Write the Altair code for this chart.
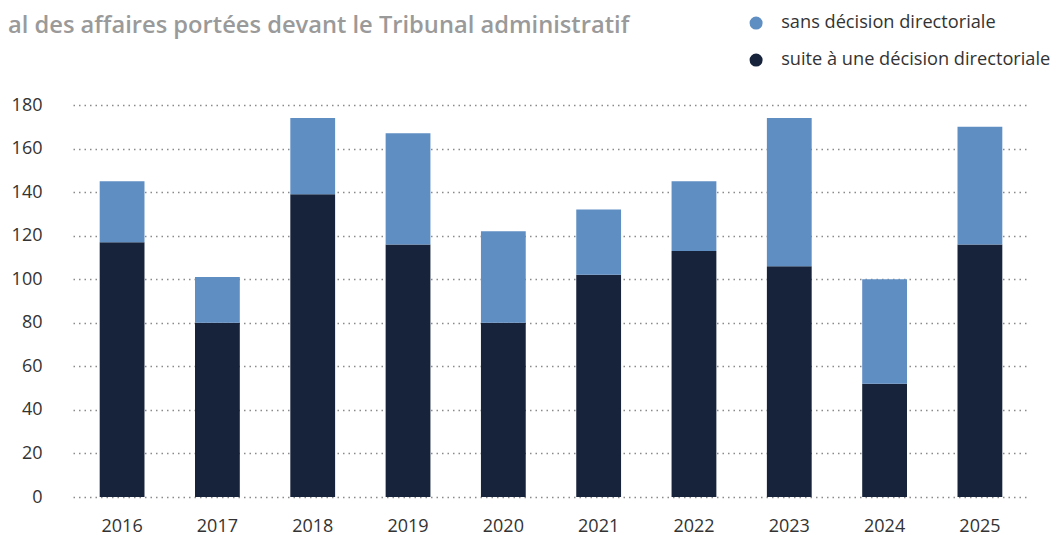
import altair as alt
import pandas as pd

years = ["2016", "2017", "2018", "2019", "2020", "2021", "2022", "2023", "2024", "2025"]
suite = [117, 80, 139, 116, 80, 102, 113, 106, 52, 116]
sans = [28, 21, 35, 51, 42, 30, 32, 68, 48, 54]
series = ["sans décision directoriale", "suite à une décision directoriale"]
colors = ["#5f8ec3", "#16233b"]
title_text = "al des affaires portées devant le Tribunal administratif"

rows = []
for i, y in enumerate(years):
    rows.append({"year": y, "serie": series[1], "value": suite[i], "ord": 0})
    rows.append({"year": y, "serie": series[0], "value": sans[i], "ord": 1})
df = pd.DataFrame(rows)

bars = alt.Chart(df).mark_bar().encode(
    x=alt.X("year:N", sort=years, title=None,
            scale=alt.Scale(paddingInner=0.53, paddingOuter=0.28),
            axis=alt.Axis(labelAngle=0, labelFontSize=18, labelColor="#333333",
                          labelFont="Open Sans", domain=False, ticks=False, labelPadding=20)),
    y=alt.Y("value:Q", stack="zero", title=None,
            scale=alt.Scale(domain=[0, 180], nice=False),
            axis=alt.Axis(values=list(range(0, 181, 20)), labelFontSize=18, labelColor="#333333",
                          labelFont="Open Sans", domain=False, ticks=False, labelPadding=31,
                          grid=True, gridColor="#8a8a8a", gridDash=[1.5, 4], gridWidth=1.5)),
    color=alt.Color("serie:N", scale=alt.Scale(domain=series, range=colors),
                    legend=alt.Legend(title=None, orient="none", legendX=674, legendY=-91,
                                      symbolType="circle", symbolSize=170, labelFontSize=18.2,
                                      labelColor="#333333", labelFont="Open Sans", labelLimit=0,
                                      rowPadding=18, labelOffset=16, symbolStrokeWidth=0)),
    order=alt.Order("ord:Q", sort="ascending"),
)

title = alt.Chart(pd.DataFrame({"t": [title_text]})).mark_text(
    align="left", baseline="alphabetic", fontSize=23.7, fontWeight=600,
    color="#9a9a9a", font="Open Sans"
).encode(text="t:N", x=alt.value(-65), y=alt.value(-72))

chart = alt.layer(bars, title).properties(
    width=956,
    height=392,
    padding={"left": 65, "top": 97, "right": 25, "bottom": 38},
    autosize=alt.AutoSizeParams(type="none"),
).configure_view(stroke=None)

chart.save("out.html", embed_options={"renderer": "svg", "actions": False})
